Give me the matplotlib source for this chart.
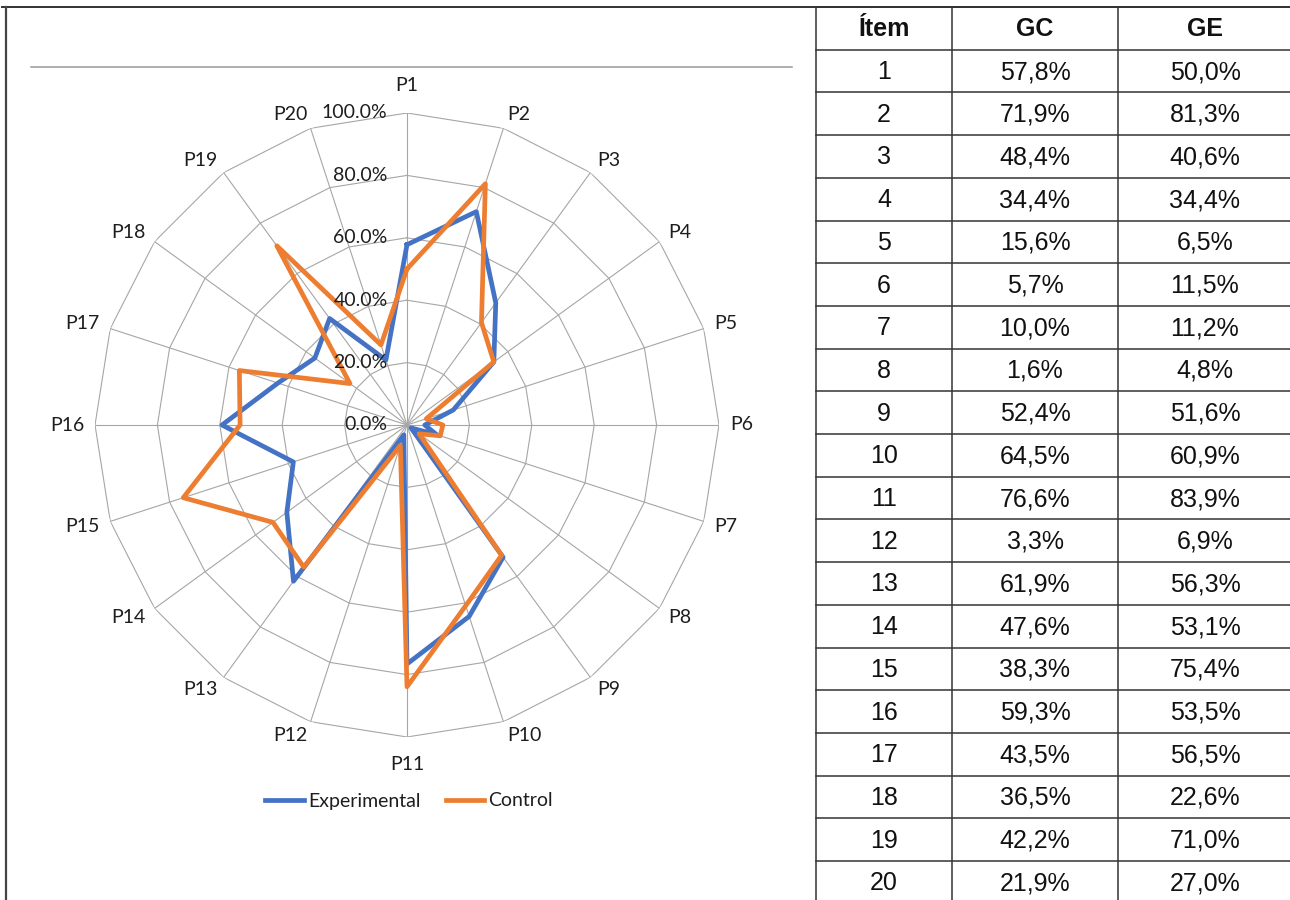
import numpy as np
import matplotlib
matplotlib.use("Agg")
import matplotlib.pyplot as plt

# ---------------- data ----------------
items = [f"P{i}" for i in range(1, 21)]
item_numbers = list(range(1, 21))
gc_values = [57.8, 71.9, 48.4, 34.4, 15.6, 5.7, 10.0, 1.6, 52.4, 64.5,
             76.6, 3.3, 61.9, 47.6, 38.3, 59.3, 43.5, 36.5, 42.2, 21.9]
ge_values = [50.0, 81.3, 40.6, 34.4, 6.5, 11.5, 11.2, 4.8, 51.6, 60.9,
             83.9, 6.9, 56.3, 53.1, 75.4, 53.5, 56.5, 22.6, 71.0, 27.0]
ring_values = [0, 20, 40, 60, 80, 100]
series_names = ["Experimental", "Control"]
table_header = ["Ítem", "GC", "GE"]

# ---------------- figure ----------------
W, H, DPI = 1290, 900, 100
PT = 72 / DPI  # points per pixel
fig = plt.figure(figsize=(W / DPI, H / DPI), dpi=DPI)
fig.patch.set_facecolor("white")

chart_font = ["Lato", "DejaVu Sans"]
table_font = ["Liberation Sans", "DejaVu Sans"]
chart_fs = 14
txt_col = "#1e1e1e"
blue = "#4472C4"
orange = "#ED7D31"
grid_col = "#A6A6A6"

# overlay axes in pixel coordinates for frame/table
ov = fig.add_axes([0, 0, 1, 1])
ov.set_xlim(0, W)
ov.set_ylim(H, 0)
ov.set_axis_off()

# outer frame
ov.plot([2, W], [7, 7], color="#333333", lw=1.4)
ov.plot([6, 6], [7, H], color="#444444", lw=1.6)
# chart title line
ov.plot([31, 792], [67, 67], color="#999999", lw=1.1)

# ---------------- table ----------------
col_edges = [816, 952, 1118, 1292]
row_top = 7
row_h = 42.7
n_rows = len(item_numbers) + 1
for k in range(n_rows + 1):
    y = row_top + k * row_h
    ov.plot([col_edges[0], col_edges[-1]], [y, y], color="#333333", lw=1.1)
for x in col_edges:
    ov.plot([x, x], [row_top, row_top + n_rows * row_h], color="#333333", lw=1.1)

centers = [(col_edges[i] + col_edges[i + 1]) / 2 for i in range(3)]
for j, h in enumerate(table_header):
    ov.text(centers[j], row_top + row_h / 2 + 1, h, ha="center", va="center",
            fontsize=18, fontweight="bold", family=table_font, color="#111111")


def fmt(v):
    return f"{v:.1f}".replace(".", ",") + "%"


for i, (n, a, b) in enumerate(zip(item_numbers, gc_values, ge_values)):
    yc = row_top + (i + 1.5) * row_h + 1
    for j, s in enumerate([str(n), fmt(a), fmt(b)]):
        ov.text(centers[j], yc, s, ha="center", va="center", fontsize=18,
                family=table_font, color="#111111")

# ---------------- radar ----------------
cx, cy, R = 407, 425, 312
ax = fig.add_axes([(cx - R) / W, (H - cy - R) / H, 2 * R / W, 2 * R / H],
                  projection="polar")
ax.set_theta_zero_location("N")
ax.set_theta_direction(-1)
ax.set_ylim(0, 1)
ax.set_axis_off()

n = len(items)
angles = np.linspace(0, 2 * np.pi, n, endpoint=False)
closed = np.concatenate([angles, angles[:1]])

# grid rings
for rv in ring_values[1:]:
    ax.plot(closed, [rv / 100] * (n + 1), color=grid_col, lw=0.8, zorder=1)
# spokes
for a in angles:
    ax.plot([a, a], [0, 1], color=grid_col, lw=0.8, zorder=1)

# tick labels
for rv in ring_values:
    ax.annotate(f"{rv:.1f}%", xy=(0, rv / 100), xytext=(-14, 0),
                textcoords="offset points", ha="right", va="center",
                fontsize=chart_fs, family=chart_font, color=txt_col, zorder=5)

# category labels (Excel-like placement next to the outer vertex)
for a, lab in zip(angles, items):
    s, c = np.sin(a), np.cos(a)
    if abs(s) < 0.01:
        ha = "center"
        dx = 0
        dy = 27.5 * c
    else:
        ha = "left" if s > 0 else "right"
        dx = 11 * s
        dy = 15 * c
    ax.annotate(lab, xy=(a, 1), xytext=(dx * PT, dy * PT),
                textcoords="offset points", ha=ha, va="center",
                fontsize=chart_fs, family=chart_font, color=txt_col)

gc_arr = np.array(gc_values) / 100
ge_arr = np.array(ge_values) / 100
ax.plot(closed, np.concatenate([gc_arr, gc_arr[:1]]), color=blue, lw=3.4,
        zorder=3, label=series_names[0])
ax.plot(closed, np.concatenate([ge_arr, ge_arr[:1]]), color=orange, lw=3.4,
        zorder=4, label=series_names[1])

leg = ax.legend(loc="center", bbox_to_anchor=(409 / W, (H - 801) / H),
                bbox_transform=fig.transFigure, ncol=2, frameon=False,
                handlelength=2.0, handletextpad=0.2, columnspacing=1.3,
                prop={"family": chart_font, "size": chart_fs})
for t in leg.get_texts():
    t.set_color(txt_col)

fig.savefig("out.png", dpi=DPI, facecolor="white")
